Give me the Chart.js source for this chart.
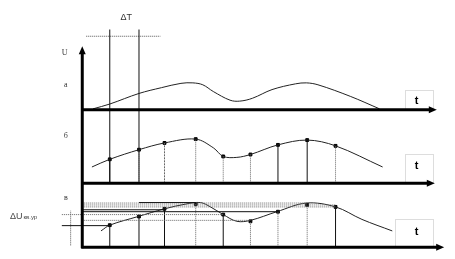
<!DOCTYPE html>
<html><head><meta charset="utf-8">
<script src="https://cdn.jsdelivr.net/npm/chart.js@4"></script>
<style>html,body{margin:0;padding:0;background:#fff;}canvas{display:block;}</style>
</head><body>
<canvas id="c" width="455" height="259" style="width:455px;height:259px"></canvas>
<script>
// ---------- DATA (time in sample intervals ΔT, voltage in arbitrary units) ----------
// panel а : continuous signal
const signalT = [0.38,0.97,2.0,2.79,3.48,3.9,4.25,4.62,5.21,5.55,6.0,6.69,7.52,7.9,8.31,9.45,10.48];
const signalU = [0.1,0.6,1.7,2.3,2.75,2.8,2.6,1.9,1.0,0.9,1.2,2.1,2.7,2.8,2.6,1.4,0.1];
// sample instants
const sampleT = [0.97,2.0,2.9,4.0,4.97,5.93,6.9,7.93,8.93];
// panel б : sampled signal
const curveBT = [0.34,0.97,2.0,2.9,4.0,4.62,4.97,5.45,5.93,6.9,7.93,8.93,10.59];
const curveBU = [1.7,2.5,3.5,4.2,4.6,3.7,2.8,2.7,3.0,4.0,4.5,3.9,1.7];
const sampleBU = [2.5,3.5,4.2,4.6,2.8,3.0,4.0,4.5,3.9];
const stemBStyle = ['solid','dotted','dashed','dotted','dotted','dotted','solid','solid','dotted'];
// panel в : quantized signal
const curveCT = [0.66,0.97,1.97,2.9,3.66,4.17,4.52,4.97,5.45,5.93,6.86,7.9,8.93,9.86,10.93];
const curveCU = [1.7,2.3,3.2,4.0,4.5,4.65,4.2,3.4,2.7,2.8,3.7,4.6,4.2,2.9,1.7];
const sampleCU = [2.3,3.2,4.0,4.5,3.4,2.7,3.7,4.4,4.2];
const stemCStyle = ['solid','solid','solid','dotted','solid','dotted','dotted','dotted','solid'];
// quantization levels
const levelU     = [4.65,4.6,4.4,4.2,3.9,3.7,3.4,2.8,2.25];
const levelStart = [2.0,0,0,0,0,0,-0.72,0,-0.72];
const levelEnd   = [4.0,7.93,8.93,8.93,2.9,6.9,4.97,5.93,0.97];
const levelStyle = ['solid','dotted','dotted','dotted','solid','solid','dotted','dotted','solid'];
// sampling interval marks
const deltaT = [0.97,2.0];
// texts
const panelLabels = ['а','б','в'];
const axisLabelU = 'U';
const axisLabelT = 't';
const deltaTLabel = 'ΔT';
const deltaULabel = 'ΔU';
const deltaUSub = 'кв.ур';

// ---------- LAYOUT ----------
const W = 455, H = 259, PX = 10;           // px per voltage unit
const X0 = 79, PXT = 29;                    // origin and px per ΔT
const base = {yA:109, yB:185.5, yC:252};
function yScale(b){ return {type:'linear', display:false, min:-(H-b)/PX, max:b/PX}; }

const INK = '#111', DOT = '#666';
const datasets = [];
function seg(pts, axis, style, color, width){
  datasets.push({data:pts, yAxisID:axis, showLine:true, pointRadius:0,
    borderColor: color || (style==='solid'?INK:DOT), borderWidth: width||1,
    borderDash: style==='dotted'?[1,1]:(style==='dashed'?[2,1]:[]), tension:0, fill:false});
}
function curve(ts, us, axis){
  datasets.push({data:ts.map((t,i)=>({x:t,y:us[i]})), yAxisID:axis, showLine:true, pointRadius:0,
    borderColor:'#222', borderWidth:1, tension:0.35, fill:false});
}
function points(ts, us, axis){
  datasets.push({data:ts.map((t,i)=>({x:t,y:us[i]})), yAxisID:axis, showLine:false,
    pointRadius:2, pointBackgroundColor:'#000', pointBorderColor:'#000', pointStyle:'rect'});
}
// quantization levels
levelU.forEach((u,i)=>seg([{x:levelStart[i],y:u},{x:levelEnd[i],y:u}],'yC',levelStyle[i]));
// delta T
deltaT.forEach(t=>seg([{x:t,y:0},{x:t,y:16}],'yB','solid',INK,1));
seg([{x:0.14,y:15.3},{x:2.76,y:15.3}],'yB','dotted','#555',1);
// delta U marker
seg([{x:-0.41,y:0.2},{x:-0.41,y:3.8}],'yC','dotted','#555',1);
// stems
sampleT.forEach((t,i)=>seg([{x:t,y:0},{x:t,y:sampleBU[i]}],'yB',stemBStyle[i]));
sampleT.forEach((t,i)=>seg([{x:t,y:0},{x:t,y:sampleCU[i]}],'yC',stemCStyle[i]));
// curves
curve(signalT, signalU, 'yA');
curve(curveBT, curveBU, 'yB');
curve(curveCT, curveCU, 'yC');
points(sampleT, sampleBU, 'yB');
points(sampleT, sampleCU, 'yC');

const schematic = {
  id:'schematic',
  beforeDatasetsDraw(chart){
    const {ctx, scales:s} = chart;
    const X = v=>s.x.getPixelForValue(v);
    ctx.save();
    // t boxes
    ctx.strokeStyle='#bbb'; ctx.lineWidth=1; ctx.setLineDash([1,1]);
    [['yA',11.38,12.38,2.1],['yB',11.38,12.38,3.0],['yC',11.03,12.38,2.9]].forEach(([a,t1,t2,u])=>{
      const y1=s[a].getPixelForValue(u), y0=s[a].getPixelForValue(0);
      ctx.strokeRect(Math.round(X(t1))+0.5, Math.round(y1)+0.5, Math.round(X(t2)-X(t1)), Math.round(y0-y1));
    });
    ctx.restore();
  },
  afterDatasetsDraw(chart){
    const {ctx, scales:s} = chart;
    const X = v=>s.x.getPixelForValue(v);
    ctx.save();
    ctx.strokeStyle='#000'; ctx.fillStyle='#000'; ctx.setLineDash([]);
    // vertical axis
    const xa = X(0), yTop = s.yA.getPixelForValue(6.6), yBot = s.yC.getPixelForValue(-0.1);
    ctx.lineWidth=3;
    ctx.beginPath(); ctx.moveTo(xa, yBot); ctx.lineTo(xa, yTop+6); ctx.stroke();
    ctx.beginPath(); ctx.moveTo(xa, yTop); ctx.lineTo(xa-3.5, yTop+8); ctx.lineTo(xa+3.5, yTop+8); ctx.closePath(); ctx.fill();
    // horizontal axes
    [['yA',12.5],['yB',12.43],['yC',12.76]].forEach(([a,tEnd])=>{
      const y = s[a].getPixelForValue(0), xe = X(tEnd);
      ctx.lineWidth=3;
      ctx.beginPath(); ctx.moveTo(xa-1, y); ctx.lineTo(xe-5, y); ctx.stroke();
      ctx.beginPath(); ctx.moveTo(xe, y); ctx.lineTo(xe-8, y-3.5); ctx.lineTo(xe-8, y+3.5); ctx.closePath(); ctx.fill();
    });
    // texts
    ctx.textAlign='center'; ctx.textBaseline='middle';
    ctx.font='8px "Liberation Serif", serif';
    ctx.fillStyle='#333';
    ctx.fillText(axisLabelU, X(-0.62), s.yA.getPixelForValue(5.9));
    ctx.fillText(panelLabels[0], X(-0.58), s.yA.getPixelForValue(2.6));
    ctx.fillText(panelLabels[1], X(-0.58), s.yB.getPixelForValue(4.9));
    ctx.fillText(panelLabels[2], X(-0.58), s.yC.getPixelForValue(5.1));
    ctx.font='9px "Liberation Sans", sans-serif';
    ctx.fillText(deltaTLabel, X(1.55), s.yB.getPixelForValue(17.2));
    ctx.fillStyle='#000';
    ctx.font='bold 11px "Liberation Sans", sans-serif';
    [['yA',0.9],['yB',1.8],['yC',1.6]].forEach(([a,u])=>ctx.fillText(axisLabelT, X(11.79), s[a].getPixelForValue(u)));
    ctx.fillStyle='#444';
    ctx.textAlign='left';
    ctx.font='9px "Liberation Sans", sans-serif';
    const lx = X(-2.55), ly = s.yC.getPixelForValue(3.2);
    ctx.fillText(deltaULabel, lx, ly);
    const w = ctx.measureText(deltaULabel).width;
    ctx.font='6px "Liberation Sans", sans-serif';
    ctx.fillText(deltaUSub, lx+w+1, ly+1);
    ctx.restore();
  }
};

new Chart(document.getElementById('c'), {
  type:'scatter',
  data:{datasets},
  options:{
    responsive:false, devicePixelRatio:1, animation:false,
    layout:{padding:0},
    plugins:{legend:{display:false}, tooltip:{enabled:false}, title:{display:false}},
    scales:{
      x:{type:'linear', display:false, min:-X0/PXT, max:(W-X0)/PXT},
      yA:yScale(base.yA), yB:yScale(base.yB), yC:yScale(base.yC)
    }
  },
  plugins:[schematic]
});
</script>
</body></html>
